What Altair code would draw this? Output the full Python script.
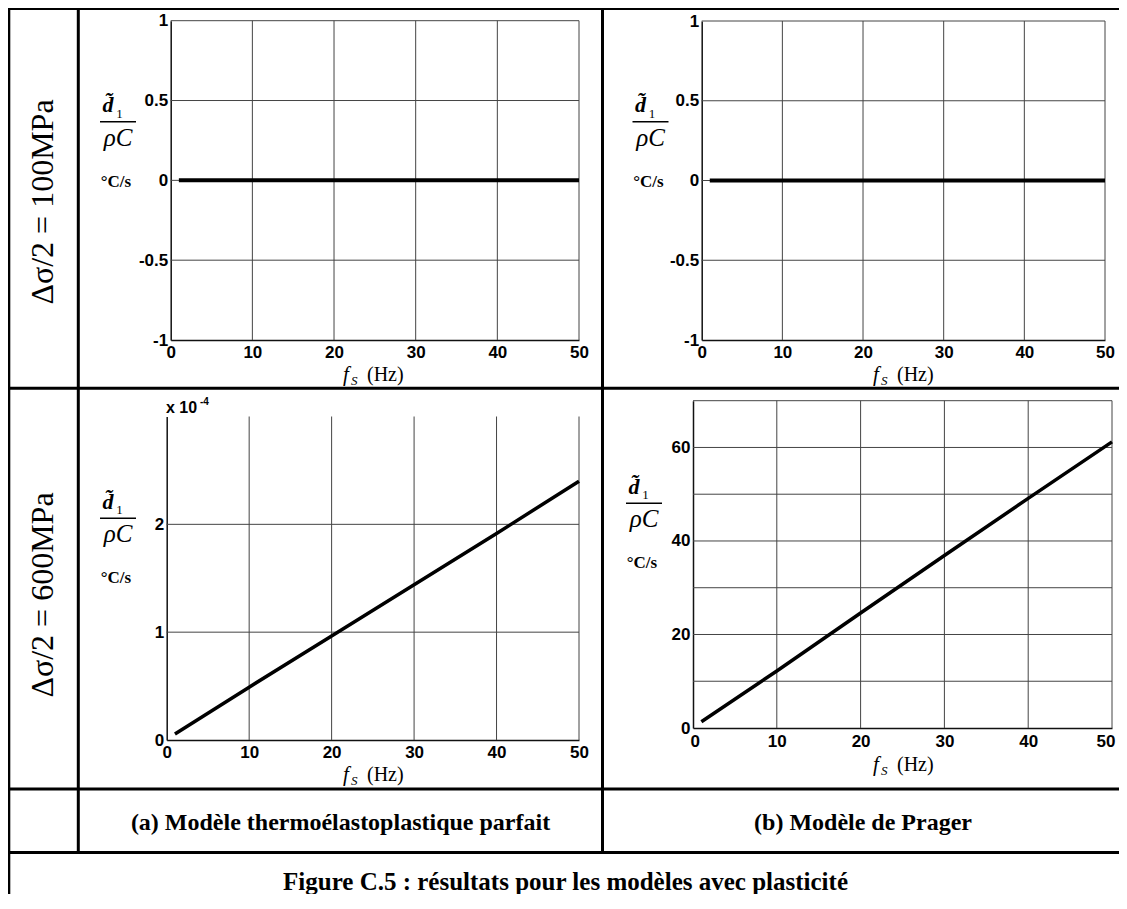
import altair as alt
import pandas as pd

# ---------------- data ----------------
freq = [1, 10, 20, 30, 40, 50]                       # f_S (Hz)
d1_parfait_100 = [0, 0, 0, 0, 0, 0]                   # °C/s
d1_prager_100 = [0, 0, 0, 0, 0, 0]                    # °C/s
d1_parfait_600 = [0.055e-4, 0.49e-4, 0.965e-4, 1.44e-4, 1.915e-4, 2.40e-4]  # °C/s
d1_prager_600 = [1.35, 12.2, 24.6, 36.9, 49.1, 61.2]  # °C/s

x_ticks = [0, 10, 20, 30, 40, 50]
x_grid = [10, 20, 30, 40, 50]
y_ticks_100 = [-1, -0.5, 0, 0.5, 1]
y_grid_100 = [-0.5, 0, 0.5, 1]
y_ticks_parfait_600 = [0, 1e-4, 2e-4]
y_grid_parfait_600 = [1e-4, 2e-4]
y_ticks_prager_600 = [0, 20, 40, 60]
y_grid_prager_600 = [10, 20, 30, 40, 50, 60, 70]

row_labels = ["Δσ/2 = 100MPa", "Δσ/2 = 600MPa"]
col_captions = ["(a) Modèle thermoélastoplastique parfait", "(b) Modèle de Prager"]
figure_caption = "Figure C.5 : résultats pour les modèles avec plasticité"
x_title_parts = ["f", "S", "(Hz)"]
y_title_parts = ["d\u0303", "1", "ρC", "°C/s"]
exponent_parts = ["x 10", "-4"]

# ---------------- layout ----------------
W, H = 1111, 886
SERIF = "Liberation Serif"
SANS = "Liberation Sans"
GRID = "#444444"
ONE = pd.DataFrame({"a": [0]})


def txt(s, x, y, size, font=SERIF, weight="normal", style="normal",
        align="center", baseline="alphabetic", angle=0):
    return alt.Chart(ONE).mark_text(
        text=s, fontSize=size, font=font, fontWeight=weight, fontStyle=style,
        align=align, baseline=baseline, angle=angle, color="black"
    ).encode(x=alt.value(x), y=alt.value(y))


def hline(x1, x2, y, w=3, color="black"):
    return alt.Chart(ONE).mark_rule(color=color, strokeWidth=w).encode(
        x=alt.value(x1), x2=alt.value(x2), y=alt.value(y))


def vline(x, y1, y2, w=3, color="black"):
    return alt.Chart(ONE).mark_rule(color=color, strokeWidth=w).encode(
        x=alt.value(x), y=alt.value(y1), y2=alt.value(y2))


def panel(x0, x1, yb, yt, xdom, ydom, xs, ys, xgrid, ygrid, yticks, ylabel_expr, lw,
          flush=False):
    xscale = alt.Scale(domain=xdom, range=[x0, x1], nice=False, zero=False)
    yscale = alt.Scale(domain=ydom, range=[yb, yt], nice=False, zero=False)
    xaxis_kw = dict(orient="bottom", offset=yb - H, values=x_ticks,
                    title="", labelPadding=4,
                    labelExpr="format(datum.value, 'd')")
    if flush:
        xaxis_kw.update(labelFlush=True, labelFlushOffset=3, labelPadding=5)
    xaxis = alt.Axis(**xaxis_kw)
    yaxis = alt.Axis(orient="left", offset=-x0, values=yticks,
                     title="", labelPadding=3, labelExpr=ylabel_expr)
    gv = pd.DataFrame({"gx": xgrid})
    gv["lo"] = ydom[0]
    gv["hi"] = ydom[1]
    gh = pd.DataFrame({"gy": ygrid})
    gh["lo"] = xdom[0]
    gh["hi"] = xdom[1]
    vgrid = alt.Chart(gv).mark_rule(color=GRID, strokeWidth=1).encode(
        x=alt.X("gx:Q", scale=xscale, axis=xaxis),
        y=alt.Y("lo:Q", scale=yscale, axis=yaxis), y2="hi:Q")
    hgrid = alt.Chart(gh).mark_rule(color=GRID, strokeWidth=1).encode(
        y=alt.Y("gy:Q", scale=yscale, axis=yaxis),
        x=alt.X("lo:Q", scale=xscale, axis=xaxis), x2="hi:Q")
    line = alt.Chart(pd.DataFrame({"f": xs, "d": ys})).mark_line(
        color="black", strokeWidth=lw).encode(
        x=alt.X("f:Q", scale=xscale, axis=xaxis),
        y=alt.Y("d:Q", scale=yscale, axis=yaxis))
    return alt.layer(vgrid, hgrid, line)


def x_title(L, base):
    return [
        txt(x_title_parts[0], L, base, 21, style="italic", align="left"),
        txt(x_title_parts[1], L + 8, base + 4, 13, style="italic", align="left"),
        txt(x_title_parts[2], L + 24, base, 20, align="left"),
    ]


def y_title(bx, by):
    return [
        txt(y_title_parts[0], bx - 10, by - 9.5, 22, weight="bold", style="italic"),
        txt(y_title_parts[1], bx + 1.5, by - 4, 13),
        hline(bx - 18, bx + 18, by, w=1.6),
        txt(y_title_parts[2], bx, by + 24, 25, style="italic"),
        txt(y_title_parts[3], bx - 2, by + 65, 17, weight="bold"),
    ]


neg_fmt = "datum.value < 0 ? '-' + format(-datum.value, '~g') : format(datum.value, '~g')"

p_tl = panel(162.7, 571, 332, 12.7, [0, 50], [-1, 1], freq, d1_parfait_100,
             x_grid, y_grid_100, y_ticks_100, neg_fmt, 4)
p_tr = panel(693.7, 1097, 332, 13, [0, 50], [-1, 1], freq, d1_prager_100,
             x_grid, y_grid_100, y_ticks_100, neg_fmt, 4)
p_bl = panel(158.7, 571, 732, 408.5, [0, 50], [0, 3e-4], freq, d1_parfait_600,
             x_grid, y_grid_parfait_600, y_ticks_parfait_600,
             "format(round(datum.value * 10000), 'd')", 3.5)
p_br = panel(685, 1104, 720, 392.7, [0, 50], [0, 70], freq, d1_prager_600,
             x_grid, y_grid_prager_600, y_ticks_prager_600,
             "format(datum.value, 'd')", 3.5, flush=True)

deco = [
    # table rules
    hline(0, W, 0.6),
    hline(0, W, 380.3),
    hline(0, W, 781),
    hline(0, W, 844.5),
    vline(0.8, 0, H),
    vline(70.3, 0, 844.5),
    vline(594.5, 0, 844.5),
    # row labels
    txt(row_labels[0], 45, 194, 32, angle=270),
    txt(row_labels[1], 45, 587, 32, angle=270),
    # captions
    txt(col_captions[0], 332.5, 822, 24, weight="bold"),
    txt(col_captions[1], 855, 822, 24, weight="bold"),
    txt(figure_caption, 557.5, 882, 25, weight="bold"),
    # exponent label
    txt(exponent_parts[0], 158, 405, 16, font=SANS, weight="bold", align="left"),
    txt(exponent_parts[1], 192, 397, 10, font=SANS, weight="bold", align="left"),
]
deco += x_title(335, 373) + x_title(865, 373) + x_title(335, 773) + x_title(865, 763)
deco += y_title(110, 113.7) + y_title(642.5, 113.7) + y_title(110, 510.3) + y_title(636, 495.3)

chart = alt.layer(p_tl, p_tr, p_bl, p_br, *deco).resolve_scale(
    x="independent", y="independent"
).properties(
    width=W, height=H, padding=0,
    autosize=alt.AutoSizeParams(type="none"),
    background="white",
).configure_view(strokeWidth=0).configure_axis(
    grid=False, ticks=False, domainColor="#111", domainWidth=1.5,
    labelFont=SANS, labelFontWeight="bold", labelFontSize=17, labelColor="black",
    labelFlush=False, labelOverlap=False, labelBound=False,
)

chart.save("out.html", embed_options={"renderer": "svg", "actions": False})
